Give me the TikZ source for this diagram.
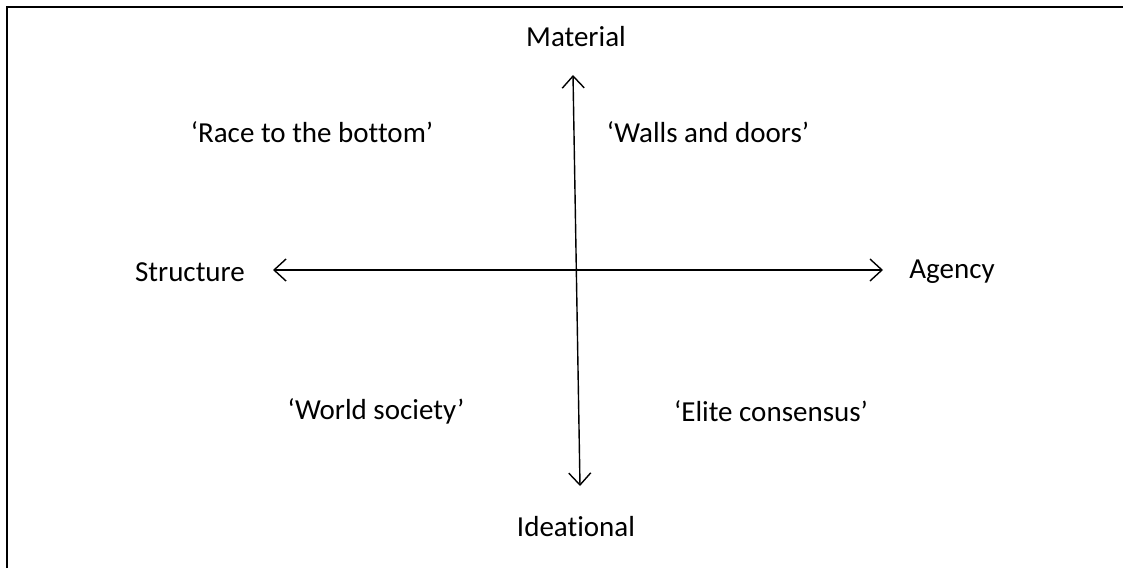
\documentclass[tikz,border=0pt]{standalone}
\usepackage{fontspec}
\setmainfont{Carlito}[Ligatures=NoCommon]
\usetikzlibrary{arrows.meta, calc, positioning}

\begin{document}
\begin{tikzpicture}[x=1pt, y=-1pt, font=\fontsize{29}{33}\selectfont,
    axis/.style = {line width=1.4pt,
      {Straight Barb[length=12pt,width=22pt]}-{Straight Barb[length=12pt,width=22pt]}}]
  \useasboundingbox (0,0) rectangle (1123,568);
  \draw[line width=2pt] (7,568) -- (7,7) -- (1123,7);

  \coordinate (top)    at (573,75);
  \coordinate (bottom) at (580,486);
  \coordinate (left)   at (273,270);
  \coordinate (right)  at (883,270);

  \draw[axis] (top) -- (bottom);
  \draw[axis] (left) -- (right);

  \node (material)   at (576,37)  {Material};
  \node (ideational) at (576,527) {Ideational};
  \node (structure)  at (190,272) {Structure};
  \node (agency)     at (952,272) {Agency};

  \node (race)  at (312,132) {‘Race to the bottom’};
  \node (walls) at (708,132) {‘Walls and doors’};
  \node (world) at (376,411) {‘World society’};
  \node (elite) at (771,411) {‘Elite consensus’};
\end{tikzpicture}
\end{document}
